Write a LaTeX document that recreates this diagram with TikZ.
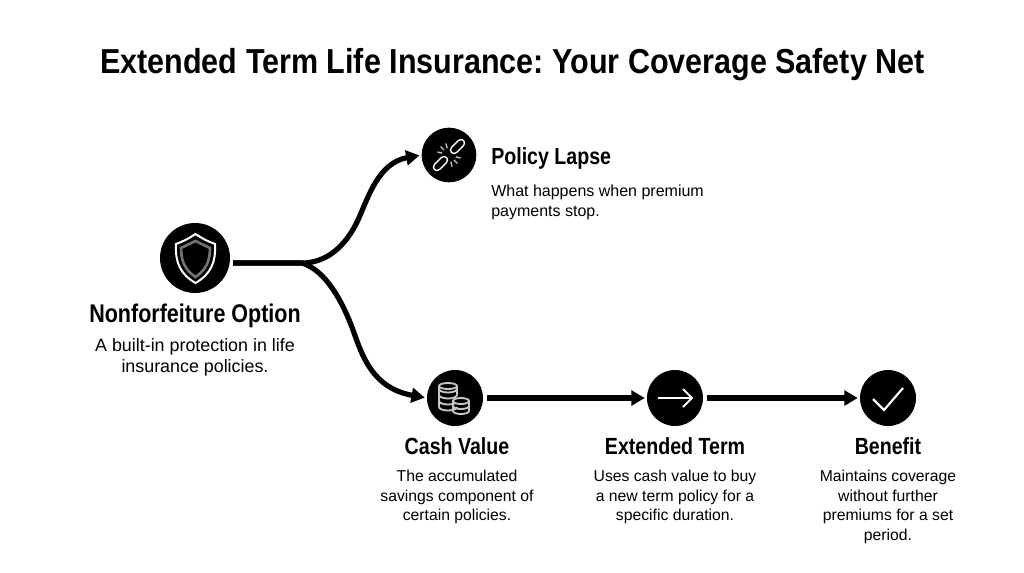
\documentclass[tikz,border=0pt]{standalone}
\usepackage{fontspec}
\setmainfont{Liberation Sans}
\newfontfamily\headfont[FakeStretch=0.84]{Liberation Sans}
\newfontfamily\titlefont[FakeStretch=0.88]{Liberation Sans}
\usepackage{tikz}
\usetikzlibrary{positioning,arrows.meta}
\frenchspacing

\tikzset{
    badge/.style={circle,fill=black,inner sep=0pt},
    flow/.style={line width=3.9pt,shorten >=1.5pt,-{Triangle[length=10pt,width=11pt]}},
    head/.style={font=\headfont\fontsize{17.5}{20}\selectfont\bfseries,inner sep=0pt},
    body/.style={font=\fontsize{11.8}{14.7}\selectfont,align=center,inner sep=0pt},
    icon/.style={white,line width=1.2pt},
    iconsoft/.style={color=white!78!black,line width=1.4pt},
}

\begin{document}
\begin{tikzpicture}[x=0.75pt,y=-0.75pt]

        \useasboundingbox (0,0) rectangle (1024,572);

        \node[font=\titlefont\fontsize{26}{28}\selectfont\bfseries] (title) at (512.5,65) {Extended Term Life Insurance: Your Coverage Safety Net};

        % circles
        \node[badge,minimum size=52.5pt] (option) at (195,258) {};
        \node[badge,minimum size=41pt] (lapse) at (449,155) {};
        \node[badge,minimum size=42pt] (cash) at (455,398) {};
        \node[badge,minimum size=42pt] (term) at (675,398) {};
        \node[badge,minimum size=42pt] (benefit) at (888,398) {};

        % texts
        \node[head,font=\headfont\fontsize{19.2}{22}\selectfont\bfseries] (optionhead) at (195,316) {Nonforfeiture Option};
        \node[body,font=\fontsize{13.4}{15.8}\selectfont,anchor=north] (optionbody) at (195,338) {A built-in protection in life\\insurance policies.};
        \node[head,anchor=west] (lapsehead) at (491,158) {Policy Lapse};
        \node[body,align=left,font=\fontsize{12}{14.7}\selectfont,anchor=north west] (lapsebody) at (491,185) {What happens when premium\\payments stop.};
        \node[head] (cashhead) at (457,446.5) {Cash Value};
        \node[body,anchor=north] (cashbody) at (457,470) {The accumulated\\savings component of\\certain policies.};
        \node[head] (termhead) at (675,446.5) {Extended Term};
        \node[body,anchor=north] (termbody) at (675,470) {Uses cash value to buy\\a new term policy for a\\specific duration.};
        \node[head] (benefithead) at (888,446.5) {Benefit};
        \node[body,anchor=north] (benefitbody) at (888,470) {Maintains coverage\\without further\\premiums for a set\\period.};

        % connectors
        \coordinate (forkstart) at (233,263);
        \draw[flow] (forkstart) -- (302,263) .. controls (325,263) and (345,248) .. (358,220)
            .. controls (368,198) and (378,163) .. (lapse.west);
        \draw[flow] (forkstart) -- (302,263) .. controls (325,270) and (342,300) .. (353,330)
            .. controls (362,355) and (372,388) .. (cash.west);
        \draw[flow] (cash.east) ++(4,0) -- (term.west);
        \draw[flow] (term.east) ++(4,0) -- (benefit.west);

        % shield
        \draw[icon,line width=1.5pt] (195.5,234) .. controls (186,240) .. (176,244) .. controls (175,262) and (180,274) .. (195.5,283)
            .. controls (211,274) and (216,262) .. (215,244) .. controls (205,240) .. (195.5,234) -- cycle;
        \draw[iconsoft,color=white!45!black,line width=2pt] (195.5,241) .. controls (188,245) .. (181,248) .. controls (181,261) and (185,270) .. (195.5,277)
            .. controls (206,270) and (210,261) .. (210,248) .. controls (203,245) .. (195.5,241) -- cycle;

        % broken link
        \foreach \xa/\ya/\xb/\yb in {454/150/461/143,437/167/444/160}
            { \draw[white,line width=6.4pt,line cap=round] (\xa,\ya) -- (\xb,\yb);
              \draw[black,line width=4pt,line cap=round] (\xa,\ya) -- (\xb,\yb); }
        \foreach \an in {195,225,255,15,45,75}
            { \draw[iconsoft,line width=1pt] (449,155) ++(\an:7) -- ++(\an:5); }

        % coins
        \foreach \yy in {391,397,403,409}
            { \draw[iconsoft] (439,\yy-2) arc (180:0:9 and 3.5); }
        \draw[iconsoft] (448,386) ellipse (9 and 3);
        \draw[iconsoft] (439,386) -- (439,407) (457,386) -- (457,395);
        \draw[iconsoft,fill=black] (461,401) ellipse (8 and 3);
        \foreach \yy in {406,411}
            { \draw[iconsoft] (453,\yy) arc (180:0:8 and 3); }
        \draw[iconsoft] (453,401) -- (453,411) (469,401) -- (469,411);

        % arrow and check
        \draw[icon,line width=1.4pt] (658,398) -- (692,398);
        \draw[icon,line width=1.4pt] (683,389) -- (692,398) -- (683,407);
        \draw[icon,line width=1.6pt] (873,399) -- (884,410) -- (903,388);

    \end{tikzpicture}
\end{document}
